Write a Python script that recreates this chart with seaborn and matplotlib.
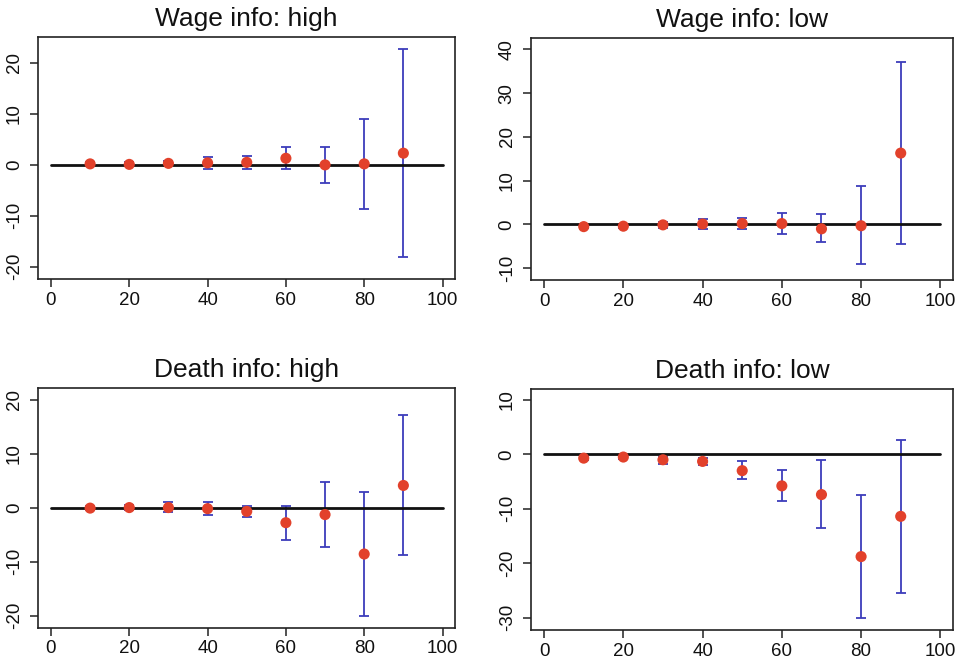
import numpy as np
import pandas as pd
import matplotlib
matplotlib.use("Agg")
import matplotlib.pyplot as plt
import seaborn as sns

# ---- data ----
percentiles = [10, 20, 30, 40, 50, 60, 70, 80, 90]
panel_titles = ["Wage info: high", "Wage info: low", "Death info: high", "Death info: low"]

wage_high_est = [0.2, 0.1, 0.3, 0.4, 0.5, 1.3, 0.0, 0.2, 2.3]
wage_high_lo = [-0.2, -0.3, -0.2, -0.8, -0.8, -0.9, -3.5, -8.6, -18.0]
wage_high_hi = [0.6, 0.5, 0.8, 1.5, 1.7, 3.6, 3.6, 9.0, 22.7]

wage_low_est = [-0.5, -0.4, -0.1, 0.1, 0.2, 0.2, -1.0, -0.3, 16.3]
wage_low_lo = [-0.9, -0.8, -0.7, -1.0, -1.0, -2.1, -4.1, -9.1, -4.5]
wage_low_hi = [-0.1, 0.0, 0.5, 1.3, 1.4, 2.6, 2.3, 8.8, 37.2]

death_high_est = [-0.1, 0.0, 0.0, -0.2, -0.7, -2.8, -1.3, -8.6, 4.1]
death_high_lo = [-0.5, -0.4, -0.9, -1.3, -1.7, -6.0, -7.3, -20.0, -8.8]
death_high_hi = [0.3, 0.4, 1.0, 1.0, 0.3, 0.3, 4.7, 2.9, 17.1]

death_low_est = [-0.7, -0.5, -1.0, -1.3, -3.0, -5.8, -7.4, -18.8, -11.4]
death_low_lo = [-1.1, -0.9, -1.8, -2.0, -4.5, -8.5, -13.6, -30.0, -25.5]
death_low_hi = [-0.3, -0.1, -0.4, -0.7, -1.3, -2.9, -1.0, -7.5, 2.6]

x_ticks = [0, 20, 40, 60, 80, 100]
y_ticks = [[-20, -10, 0, 10, 20], [-10, 0, 10, 20, 30, 40],
           [-20, -10, 0, 10, 20], [-30, -20, -10, 0, 10]]
y_limits = [(-22.4, 25.1), (-12.7, 42.6), (-22.3, 22.15), (-32.3, 12.0)]

series = [
    (wage_high_est, wage_high_lo, wage_high_hi),
    (wage_low_est, wage_low_lo, wage_low_hi),
    (death_high_est, death_high_lo, death_high_hi),
    (death_low_est, death_low_lo, death_low_hi),
]

frames = []
for title, (est, lo, hi) in zip(panel_titles, series):
    frames.append(pd.DataFrame({"panel": title, "x": percentiles,
                                "est": est, "lo": lo, "hi": hi}))
df = pd.concat(frames, ignore_index=True)

# ---- style ----
sns.set_style("ticks")
plt.rcParams["font.family"] = ["Liberation Sans", "DejaVu Sans"]
plt.rcParams["axes.unicode_minus"] = False

RED = "#e2412b"
BLUE = "#3d3dbb"

fig = plt.figure(figsize=(9.58, 6.62), dpi=100)
positions = [
    [0.0397, 0.5785, 0.4353, 0.3656],
    [0.5543, 0.5770, 0.4405, 0.3656],
    [0.0397, 0.0514, 0.4353, 0.3625],
    [0.5543, 0.0483, 0.4405, 0.3640],
]

for i, title in enumerate(panel_titles):
    ax = fig.add_axes(positions[i])
    d = df[df["panel"] == title]
    # zero reference line
    sns.lineplot(x=[0, 100], y=[0, 0], ax=ax, color="#111111", lw=2.0, zorder=3)
    # error bars
    ax.errorbar(d["x"], d["est"],
                yerr=[d["est"] - d["lo"], d["hi"] - d["est"]],
                fmt="none", ecolor=BLUE, elinewidth=1.3, capsize=3.6,
                capthick=1.3, zorder=2)
    # point estimates
    sns.scatterplot(data=d, x="x", y="est", ax=ax, color=RED, s=64,
                    edgecolor="none", zorder=4)
    ax.set_xlim(-3.3, 103.2)
    ax.set_ylim(*y_limits[i])
    ax.set_xticks(x_ticks)
    ax.set_yticks(y_ticks[i])
    ax.set_xlabel("")
    ax.set_ylabel("")
    ax.set_title(title, fontsize=19, pad=8, color="#111111")
    for s in ax.spines.values():
        s.set_visible(True)
        s.set_color("#222222")
        s.set_linewidth(1.2)
    ax.tick_params(axis="both", length=6, width=1.1, color="#222222",
                   labelsize=13.5, labelcolor="#111111", direction="out")
    ax.tick_params(axis="x", pad=3)
    ax.tick_params(axis="y", pad=5)
    for lab in ax.get_yticklabels():
        lab.set_rotation(90)
        lab.set_va("center")

fig.savefig("out.png", dpi=100, facecolor="white")
